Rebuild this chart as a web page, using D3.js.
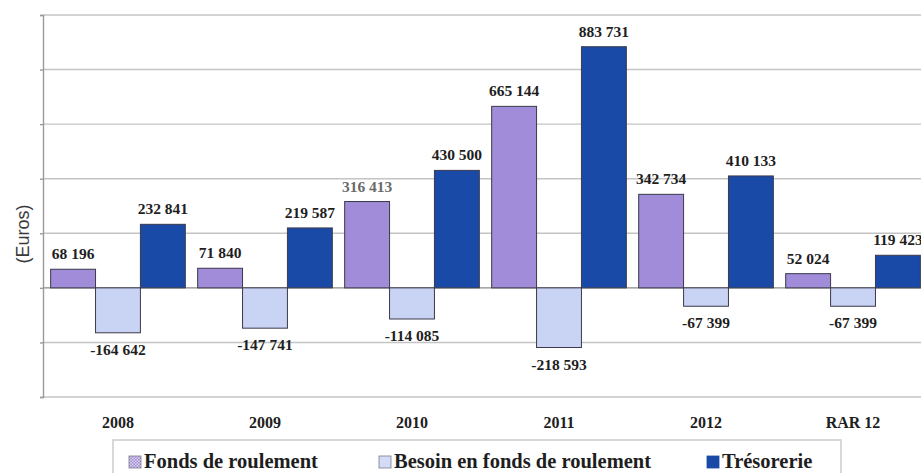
<!DOCTYPE html>
<html>
<head>
<meta charset="utf-8">
<script src="https://cdn.jsdelivr.net/npm/d3@7"></script>
<style>
  html, body { margin: 0; padding: 0; background: #fff; overflow: hidden; }
  svg { display: block; }
</style>
</head>
<body>
<div id="box-div"></div>
<script>
const years = ['2008', '2009', '2010', '2011', '2012', 'RAR 12']
const seriesNames = ['Fonds de roulement', 'Besoin en fonds de roulement', 'Trésorerie']
const fondsRoulement = [68196, 71840, 316413, 665144, 342734, 52024]
const besoinFonds = [-164642, -147741, -114085, -218593, -67399, -67399]
const tresorerie = [232841, 219587, 430500, 883731, 410133, 119423]
const yTicks = [-400000, -200000, 0, 200000, 400000, 600000, 800000, 1000000]

const colors = ['#a08cd8', '#c9d3f4', '#1a4aa8']

let dms = { width: 921, height: 473, left: 43, top: 15, bottom: 397, right: 928 }

const svg = d3.select('#box-div').append('svg')
    .attr('width', dms.width)
    .attr('height', dms.height)

// 比例尺
const xScale = d3.scaleBand()
    .domain(years)
    .range([dms.left, dms.right])
    .paddingInner(0.084)
    .paddingOuter(0.052)

const xSub = d3.scaleBand()
    .domain(seriesNames)
    .range([0, xScale.bandwidth()])

const yScale = d3.scaleLinear()
    .domain([-400000, 1000000])
    .range([dms.bottom, dms.top])

// 网格线
svg.append('g')
    .attr('class', 'grid')
    .selectAll('line')
    .data(yTicks)
    .enter()
    .append('line')
    .attr('x1', dms.left)
    .attr('x2', dms.width)
    .attr('y1', d => yScale(d))
    .attr('y2', d => yScale(d))
    .attr('stroke', d => d === 0 ? '#8a8a8a' : '#c4c4c4')
    .attr('stroke-width', 1.4)

// y轴 (无刻度文字)
const yAxis = d3.axisLeft(yScale)
    .tickValues(yTicks)
    .tickSize(3)
    .tickFormat('')
svg.append('g')
    .attr('class', 'axis-y')
    .attr('transform', `translate(${dms.left},0)`)
    .call(yAxis)
svg.selectAll('.axis-y path, .axis-y line')
    .attr('stroke', '#9a9a9a')
    .attr('stroke-width', 1.4)

// 数据表
const table = years.map((y, i) => ({
    year: y,
    values: [fondsRoulement[i], besoinFonds[i], tresorerie[i]]
}))

const groups = svg.selectAll('.group')
    .data(table)
    .enter()
    .append('g')
    .attr('class', 'group')
    .attr('transform', d => `translate(${xScale(d.year)},0)`)

const cells = groups.selectAll('.cell')
    .data(d => d.values.map((v, j) => ({ name: seriesNames[j], value: v, j: j, year: d.year })))
    .enter()
    .append('g')
    .attr('class', 'cell')

cells.append('rect')
    .attr('x', d => xSub(d.name))
    .attr('y', d => yScale(Math.max(0, d.value)))
    .attr('width', xSub.bandwidth())
    .attr('height', d => Math.abs(yScale(d.value) - yScale(0)))
    .attr('fill', d => colors[d.j])
    .attr('stroke', '#3a3a4a')
    .attr('stroke-width', 1)

// 千位空格, 普通连字符作负号
const fmt = v => d3.format(',')(v).replace(/,/g, ' ').replace('\u2212', '-')

cells.append('text')
    .attr('x', d => xSub(d.name) + xSub.bandwidth() / 2)
    .attr('y', d => d.value >= 0 ? yScale(d.value) - 10 : yScale(d.value) + 22)
    .attr('text-anchor', 'middle')
    .style('font-family', '"Liberation Serif", "Times New Roman", serif')
    .style('font-weight', 'bold')
    .style('font-size', '15.5px')
    .attr('fill', d => (d.year === '2010' && d.j === 0) ? '#6a6a6a' : '#1e1e1e')
    .text(d => fmt(d.value))

// x轴标签
svg.append('g')
    .attr('class', 'axis-x')
    .selectAll('text')
    .data(years)
    .enter()
    .append('text')
    .attr('x', d => xScale(d) + xScale.bandwidth() / 2)
    .attr('y', 428)
    .attr('text-anchor', 'middle')
    .style('font-family', '"Liberation Serif", "Times New Roman", serif')
    .style('font-weight', 'bold')
    .style('font-size', '16px')
    .attr('fill', '#1e1e1e')
    .text(d => d)

// y轴标题
svg.append('text')
    .attr('transform', 'translate(29,234) rotate(-90)')
    .attr('text-anchor', 'middle')
    .style('font-family', '"Liberation Sans", Arial, sans-serif')
    .style('font-size', '18px')
    .attr('fill', '#3a3a3a')
    .text('(Euros)')

// 图例
svg.append('rect')
    .attr('x', 113)
    .attr('y', 440)
    .attr('width', 728)
    .attr('height', 60)
    .attr('fill', 'none')
    .attr('stroke', '#c8c8c8')
    .attr('stroke-width', 1.4)

const pattern = svg.append('defs').append('pattern')
    .attr('id', 'checks')
    .attr('width', 3)
    .attr('height', 3)
    .attr('patternUnits', 'userSpaceOnUse')
pattern.append('rect').attr('width', 3).attr('height', 3).attr('fill', '#ddd6f2')
pattern.append('rect').attr('width', 1.5).attr('height', 1.5).attr('fill', '#9d8ad0')
pattern.append('rect').attr('x', 1.5).attr('y', 1.5).attr('width', 1.5).attr('height', 1.5).attr('fill', '#9d8ad0')

const legendX = [129, 379, 707]
const legendFill = ['url(#checks)', '#d3dbf6', '#1a4aa8']

const legend = svg.selectAll('.legend')
    .data(seriesNames)
    .enter()
    .append('g')
    .attr('class', 'legend')
    .attr('transform', (d, i) => `translate(${legendX[i]},456)`)

legend.append('rect')
    .attr('width', 12)
    .attr('height', 12)
    .attr('fill', (d, i) => legendFill[i])
    .attr('stroke', (d, i) => i === 2 ? '#1a4aa8' : '#7a7a8a')
    .attr('stroke-width', 0.8)

legend.append('text')
    .attr('x', 15)
    .attr('y', 12)
    .style('font-family', '"Liberation Serif", "Times New Roman", serif')
    .style('font-weight', 'bold')
    .style('font-size', '20.5px')
    .attr('fill', '#1e1e1e')
    .text(d => d)
</script>
</body>
</html>
